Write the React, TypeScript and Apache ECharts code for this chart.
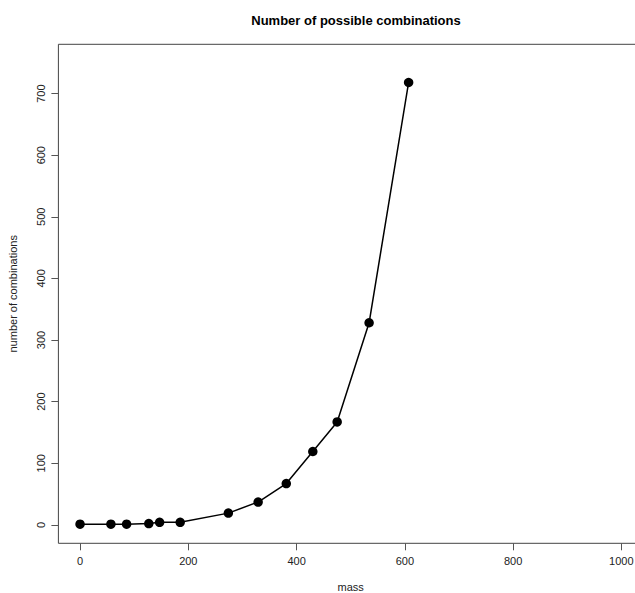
import React, { useEffect, useRef } from "react";
import * as echarts from "echarts";

const masses = [0, 57, 86, 127, 147, 185, 274, 329, 381, 430, 475, 534, 607];
const combinations = [1, 1, 1, 2, 4, 4, 19, 37, 67, 119, 167, 328, 718];
const xTicks = [0, 200, 400, 600, 800, 1000];
const yTicks = [0, 100, 200, 300, 400, 500, 600, 700];
const titleText = "Number of possible combinations";
const xName = "mass";
const yName = "number of combinations";

export default function App() {
  const ref = useRef<HTMLDivElement>(null);
  useEffect(() => {
    if (!ref.current) return;
    const chart = echarts.init(ref.current, undefined, { renderer: "svg" });
    const font = "Liberation Sans, Arial, sans-serif";
    chart.setOption({
      animation: false,
      backgroundColor: "#ffffff",
      title: {
        text: titleText,
        left: 351,
        top: 9,
        textAlign: "center",
        textStyle: { fontFamily: font, fontSize: 13, fontWeight: "bold", color: "#000" },
      },
      grid: {
        left: 58.4,
        top: 44.3,
        width: 584.6,
        height: 499,
        show: true,
        borderColor: "#444",
        borderWidth: 1,
        containLabel: false,
        outerBoundsMode: "none",
      },
      xAxis: {
        type: "value",
        min: -40,
        max: 1040,
        interval: 40,
        name: xName,
        nameLocation: "middle",
        nameGap: 38,
        nameTextStyle: { fontFamily: font, fontSize: 11, lineHeight: 11, color: "#222", verticalAlign: "top" },
        axisLine: { show: false, onZero: false },
        splitLine: { show: false },
        axisTick: {
          show: true,
          length: 7,
          lineStyle: { color: "#555" },
          customValues: xTicks,
        },
        axisLabel: {
          fontFamily: font,
          fontSize: 11,
          color: "#222",
          margin: 12,
          customValues: xTicks,
          formatter: (v: number) => String(v),
        },
      },
      yAxis: {
        type: "value",
        min: -30,
        max: 780,
        name: yName,
        nameLocation: "middle",
        nameGap: 40,
        nameTextStyle: { fontFamily: font, fontSize: 11, color: "#222" },
        axisLine: { show: false, onZero: false },
        splitLine: { show: false },
        axisTick: {
          show: true,
          length: 7,
          lineStyle: { color: "#555" },
          customValues: yTicks,
        },
        axisLabel: {
          fontFamily: font,
          fontSize: 11,
          color: "#222",
          margin: 12,
          rotate: 90,
          customValues: yTicks,
          formatter: (v: number) => String(v),
        },
      },
      series: [
        {
          type: "line",
          data: masses.map((m, i) => [m, combinations[i]]),
          symbol: "circle",
          symbolSize: 9.5,
          itemStyle: { color: "#000" },
          lineStyle: { color: "#000", width: 1.5 },
        },
      ],
    });
    return () => chart.dispose();
  }, []);
  return (
    <div style={{ position: "fixed", left: 0, top: 0, width: 635, height: 593, overflow: "hidden", background: "#fff" }}>
      <div ref={ref} style={{ width: 660, height: 593 }} />
    </div>
  );
}
